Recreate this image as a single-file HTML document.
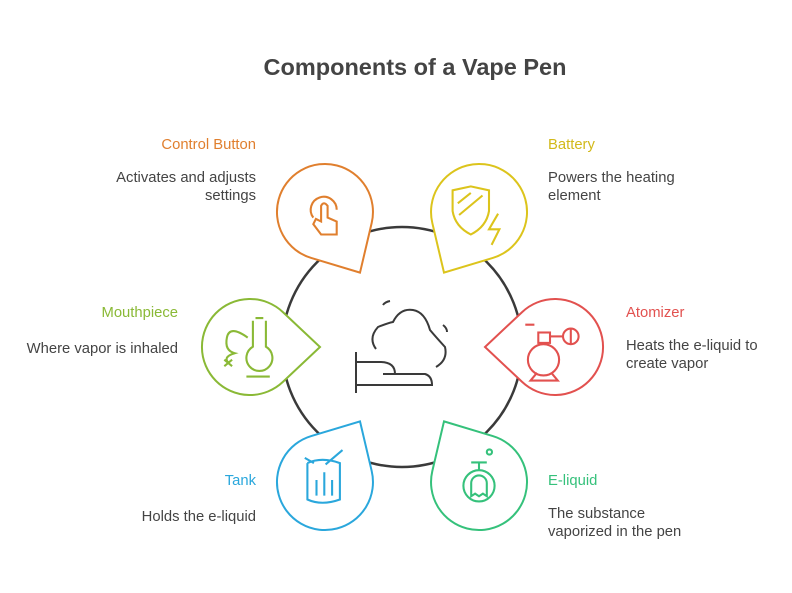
<!DOCTYPE html>
<html><head><meta charset="utf-8"><style>
body{margin:0;background:#fff;width:792px;height:588px;overflow:hidden;font-family:"Liberation Sans",sans-serif}
</style></head><body>
<svg width="792" height="588" viewBox="0 0 792 588" xmlns="http://www.w3.org/2000/svg" font-family="Liberation Sans, sans-serif">
<defs>
<path id="drop" d="M70 0 L32.9 34.9 A48 48 0 1 1 32.9 -34.9 Z"/>
</defs>
<text x="415" y="75" text-anchor="middle" font-size="23.5" font-weight="bold" fill="#444">Components of a Vape Pen</text>
<circle cx="402" cy="347" r="120" fill="none" stroke="#3a3a3a" stroke-width="2.5"/>
<g fill="#fff" stroke-width="2">
<use href="#drop" transform="translate(325,212) rotate(60)" stroke="#e07f2e"/>
<use href="#drop" transform="translate(479,212) rotate(120)" stroke="#dcc41c"/>
<use href="#drop" transform="translate(555,347) rotate(180)" stroke="#e2514f"/>
<use href="#drop" transform="translate(250,347) rotate(0)" stroke="#8ab936"/>
<use href="#drop" transform="translate(325,482) rotate(-60)" stroke="#2aa7dc"/>
<use href="#drop" transform="translate(479,482) rotate(-120)" stroke="#35c17b"/>
</g>
<!-- center icon -->
<g fill="none" stroke="#3a3a3a" stroke-width="2">
<path d="M356 352 V393 M356 362 H380 Q395 362 395 374 M383 374 H425 Q432 376 432 385 H356"/>
<path d="M376 349 Q368 338 378 327 Q388 323 393 322 Q400 308 413 310 Q425 312 430 330 Q435 336 445 347 Q448 360 436 367 M383 305 Q385 302 390 301 M443 325 Q447 328 447 332"/>
</g>
<!-- icon: control button -->
<g fill="none" stroke="#e07f2e" stroke-width="1.6" transform="translate(325,215) scale(1.3) translate(-325,-220)">
<path d="M316 222 A10 10 0 1 1 334 216"/><path d="M322 213 V225 L318 223 L316 227 L322 235 H334 V225 L327 222 V213 Q324 209 322 213Z"/>
</g>
<!-- battery -->
<g fill="none" stroke="#dcc41c" stroke-width="1.6" transform="translate(476,215) scale(1.3) translate(-476,-215)">
<path d="M458 196 L472 193 L486 196 V212 Q484 224 472 230 Q460 224 458 212Z M463 215 L481 200 M462 206 L472 198"/>
<path d="M493 214 L486 226 H494 L488 238"/>
</g>
<!-- atomizer -->
<g fill="none" stroke="#e2514f" stroke-width="1.6" transform="translate(550,352) scale(1.3) translate(-550,-352)">
<circle cx="545" cy="358" r="12"/><rect x="541" y="337" width="9" height="8"/>
<path d="M550 340 H560"/><circle cx="566" cy="340" r="6"/><path d="M566 334 V346 M531 331 H538 M540 368 L535 374 H556 L551 368"/>
</g>
<!-- mouthpiece -->
<g fill="none" stroke="#8ab936" stroke-width="1.6" transform="translate(249,348) scale(1.3) translate(-249,-348)">
<path d="M254 325 H260 M252 327 V347 A10 10 0 1 0 262 347 V327"/><path d="M247 370 H265"/>
<path d="M248 340 Q234 330 232 340 Q230 350 238 352 Q228 355 234 360 M230 357 L236 362 M236 357 L230 362"/>
</g>
<!-- tank -->
<g fill="none" stroke="#2aa7dc" stroke-width="1.6" transform="translate(323,480) scale(1.3) translate(-323,-480)">
<path d="M309 463 L316 467 M338 457 L325 468 M311 467 V495 Q322 500 336 495 V467 Q322 462 311 467 M318 480 V492 M324 474 V492 M330 480 V492"/>
</g>
<!-- e-liquid -->
<g fill="none" stroke="#35c17b" stroke-width="1.6" transform="translate(479,478) scale(1.3) translate(-479,-478)">
<path d="M473 466 H485 M479 466 V472"/><circle cx="479" cy="484" r="12"/><circle cx="487" cy="458" r="2"/>
<path d="M473 492 V482 A6 6 0 0 1 485 482 V492 L482 490 L479 492 L476 490 Z"/>
</g>
<g font-size="14.8">
<text x="256" y="149" text-anchor="end" fill="#e07f2e">Control Button</text>
<text x="256" y="182" text-anchor="end" fill="#444">Activates and adjusts</text>
<text x="256" y="200" text-anchor="end" fill="#444">settings</text>
<text x="548" y="149" fill="#d2b91a">Battery</text>
<text x="548" y="182" fill="#444">Powers the heating</text>
<text x="548" y="200" fill="#444">element</text>
<text x="178" y="317" text-anchor="end" fill="#8ab936">Mouthpiece</text>
<text x="178" y="353" text-anchor="end" fill="#444">Where vapor is inhaled</text>
<text x="626" y="317" fill="#e2514f">Atomizer</text>
<text x="626" y="350" fill="#444">Heats the e-liquid to</text>
<text x="626" y="368" fill="#444">create vapor</text>
<text x="256" y="485" text-anchor="end" fill="#2aa7dc">Tank</text>
<text x="256" y="521" text-anchor="end" fill="#444">Holds the e-liquid</text>
<text x="548" y="485" fill="#35c17b">E-liquid</text>
<text x="548" y="518" fill="#444">The substance</text>
<text x="548" y="536" fill="#444">vaporized in the pen</text>
</g>
</svg>
</body></html>
